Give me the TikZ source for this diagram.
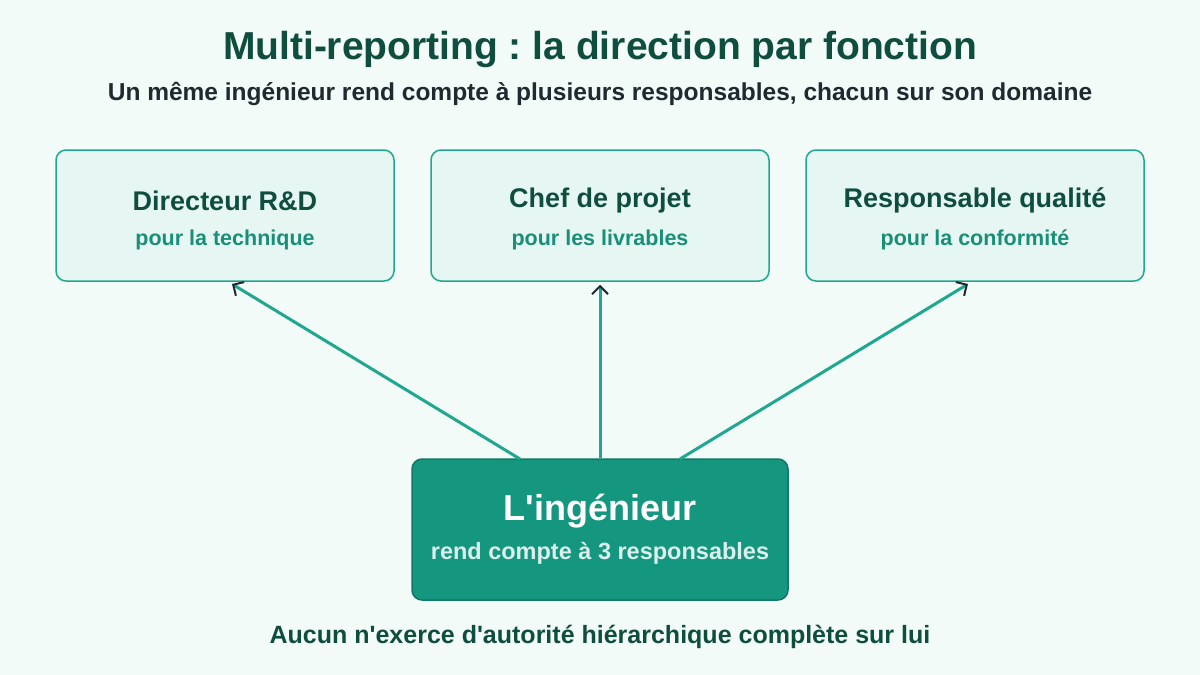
\documentclass[tikz,border=0pt]{standalone}
\usepackage{fontspec}
\setmainfont{Liberation Sans}
\usetikzlibrary{arrows.meta}
\definecolor{bg}{HTML}{F2FBF8}
\definecolor{dkg}{HTML}{0F4D3F}
\definecolor{teal}{HTML}{1FA88D}
\definecolor{lt}{HTML}{E6F6F2}
\definecolor{mid}{HTML}{14967F}
\definecolor{txt}{HTML}{1F2A30}
\newcommand{\aq}{\textquotesingle}
\frenchspacing
\begin{document}
\begin{tikzpicture}[x=1pt,y=-1pt,
  top/.style={draw=teal,fill=lt,line width=1.5pt,rounded corners=10pt,minimum width=338pt,minimum height=131pt,align=center},
  arr/.style={draw=teal,line width=3pt,-{Straight Barb[length=8pt,width=16pt,line width=2pt,color=txt]}},
  ttl/.style={font=\bfseries\fontsize{27}{32}\selectfont,text=dkg},
  sub/.style={font=\bfseries\fontsize{21.5}{26}\selectfont,text=teal!85!black}]
\fill[bg] (0,0) rectangle (1200,675);
\useasboundingbox (0,0) rectangle (1200,675);
\node[font=\bfseries\fontsize{39}{46}\selectfont,text=dkg] (t) at (600,50) {Multi-reporting : la direction par fonction};
\node[font=\bfseries\fontsize{24.5}{29}\selectfont,text=txt] (s) at (600,94) {Un même ingénieur rend compte à plusieurs responsables, chacun sur son domaine};
\node[top] (a) at (225,215.5) {};
\node[top] (b) at (600,215.5) {};
\node[top] (c) at (975,215.5) {};
\foreach \n/\x/\y in {a/Directeur R\&D/pour la technique,b/Chef de projet/pour les livrables,c/Responsable qualité/pour la conformité}{
  \node[ttl] at ([yshift=15pt]\n.center) {\x};
  \node[sub] at ([yshift=-24pt]\n.center) {\y};
}
\node[draw=mid!80!black,fill=mid,line width=1.5pt,rounded corners=10pt,minimum width=376pt,minimum height=141pt] (e) at (600,529.5) {};
\node[font=\bfseries\fontsize{36}{42}\selectfont,text=white] at (600,511) {L\aq ingénieur};
\node[font=\bfseries\fontsize{23.5}{28}\selectfont,text=white!85!mid] at (600,553) {rend compte à 3 responsables};
\coordinate (e1) at (520,459); \coordinate (e3) at (680,459);
\coordinate (a1) at (232,284); \coordinate (c1) at (968,284);
\draw[arr] (e1) -- (a1);
\draw[arr] (e.north) -- ([yshift=-3pt]b.south);
\draw[arr] (e3) -- (c1);
\node[font=\bfseries\fontsize{25}{30}\selectfont,text=dkg] (f) at (600,637) {Aucun n\aq exerce d\aq autorité hiérarchique complète sur lui};
\end{tikzpicture}
\end{document}
